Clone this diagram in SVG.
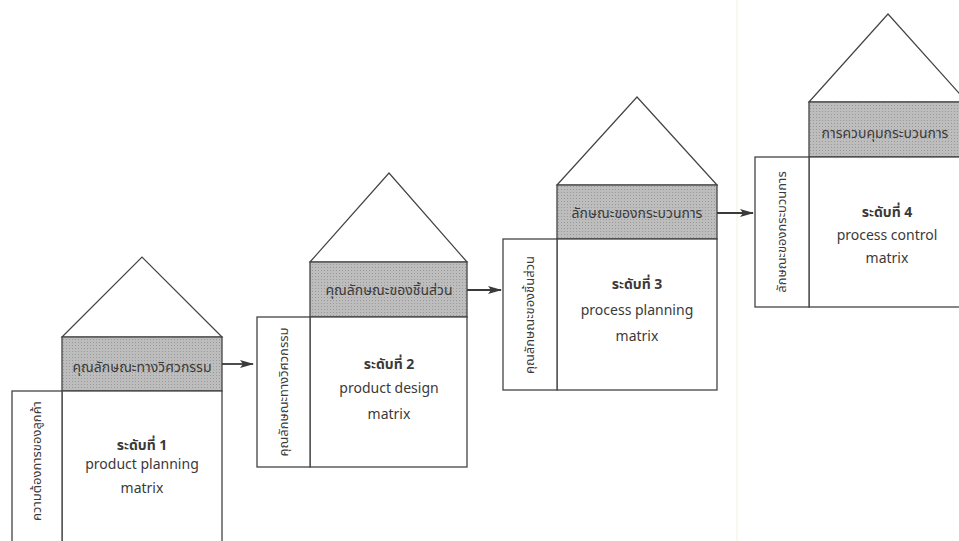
<svg xmlns="http://www.w3.org/2000/svg" width="959" height="541" viewBox="0 0 959 541">
<defs>
<pattern id="dots" width="3" height="3" patternUnits="userSpaceOnUse">
<rect width="3" height="3" fill="#bdbdbd"/>
<rect width="1" height="1" fill="#999"/>
</pattern>
<marker id="arr" viewBox="0 0 14 10" refX="13" refY="5" markerWidth="14" markerHeight="10" markerUnits="userSpaceOnUse" orient="auto">
<path d="M0,1 L14,5 L0,9 L3,5 Z" fill="#3a3a3a"/>
</marker>
</defs>
<style>
.box{fill:#fff;stroke:#444;stroke-width:1.3}
.roof{fill:#fff;stroke:#444;stroke-width:1.2}
.band{fill:url(#dots);stroke:#444;stroke-width:1.3}
.conn{stroke:#3a3a3a;stroke-width:1.8;fill:none}
text{font-family:"Noto Sans Thai","Noto Sans","Liberation Sans",sans-serif;fill:#3a3a3a;text-anchor:middle}
.t{font-size:14px}
.lv{font-size:14px;font-weight:bold}
.en{font-size:14px}
.v{font-size:13px}
</style>
<rect width="959" height="541" fill="#fff"/>
<line x1="737" y1="0" x2="737" y2="541" stroke="#f6f2e3" stroke-width="1.2"/>

<g id="house1">
<polygon class="roof" points="62,337 142,257 222,337"/>
<rect class="band" x="62" y="337" width="160" height="54"/>
<rect class="box" x="62" y="391" width="160" height="160"/>
<rect class="box" x="12" y="391" width="50" height="160"/>
<text class="t" x="142" y="372">คุณลักษณะทางวิศวกรรม</text>
<text class="lv" x="142" y="450">ระดับที่ 1</text>
<text class="en" x="142" y="469">product planning</text>
<text class="en" x="142" y="493">matrix</text>
<text class="v" transform="translate(41,461) rotate(-90)">ความต้องการของลูกค้า</text>
</g>

<g id="house2">
<polygon class="roof" points="310,262 389,173 467,262"/>
<rect class="band" x="310" y="262" width="157" height="55"/>
<rect class="box" x="310" y="317" width="157" height="150"/>
<rect class="box" x="257" y="317" width="53" height="150"/>
<text class="t" x="389" y="295">คุณลักษณะของชิ้นส่วน</text>
<text class="lv" x="389" y="369">ระดับที่ 2</text>
<text class="en" x="389" y="393">product design</text>
<text class="en" x="389" y="419">matrix</text>
<text class="v" transform="translate(288,392) rotate(-90)">คุณลักษณะทางวิศวกรรม</text>
</g>

<g id="house3">
<polygon class="roof" points="557,185 637,97 717,185"/>
<rect class="band" x="557" y="185" width="160" height="54"/>
<rect class="box" x="557" y="239" width="160" height="151"/>
<rect class="box" x="503" y="239" width="54" height="151"/>
<text class="t" x="637" y="218">ลักษณะของกระบวนการ</text>
<text class="lv" x="637" y="289">ระดับที่ 3</text>
<text class="en" x="637" y="315">process planning</text>
<text class="en" x="637" y="341">matrix</text>
<text class="v" transform="translate(534,315) rotate(-90)">คุณลักษณะของชิ้นส่วน</text>
</g>

<g id="house4">
<polygon class="roof" points="809,102 888,14 967,102"/>
<rect class="band" x="809" y="102" width="158" height="55"/>
<rect class="box" x="809" y="157" width="158" height="150"/>
<rect class="box" x="755" y="157" width="54" height="150"/>
<text class="t" x="885" y="138">การควบคุมกระบวนการ</text>
<text class="lv" x="887" y="217">ระดับที่ 4</text>
<text class="en" x="887" y="240">process control</text>
<text class="en" x="887" y="263">matrix</text>
<text class="v" transform="translate(786,232) rotate(-90)">ลักษณะของกระบวนการ</text>
</g>

<g id="connectors">
<line class="conn" x1="222" y1="364" x2="253" y2="364" marker-end="url(#arr)"/>
<line class="conn" x1="467" y1="290" x2="501" y2="290" marker-end="url(#arr)"/>
<line class="conn" x1="717" y1="213" x2="753" y2="213" marker-end="url(#arr)"/>
</g>
</svg>
